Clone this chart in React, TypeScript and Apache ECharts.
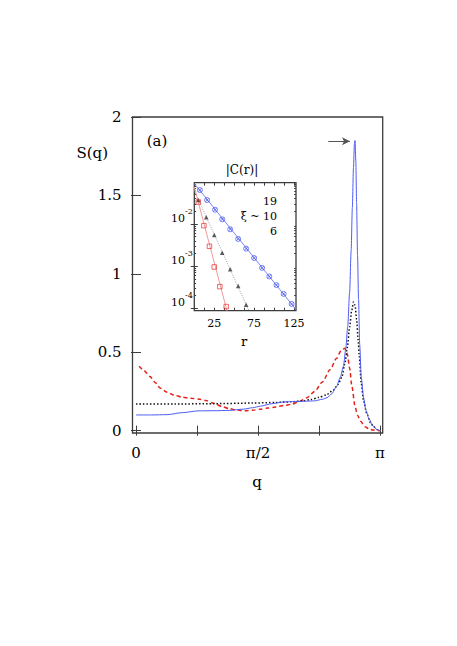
import React, { useEffect, useRef } from "react";
import * as echarts from "echarts";

// Main panel: S(q) curves, points [q, S]
const blueSolid: number[][] = [
  [0, 0.1], [0.2, 0.1], [0.4, 0.102], [0.6, 0.115], [0.8, 0.126], [1.0, 0.127], [1.2, 0.129],
  [1.38, 0.137], [1.5, 0.146], [1.6, 0.156], [1.75, 0.172], [1.9, 0.183], [2.05, 0.186],
  [2.2, 0.188], [2.3, 0.19], [2.4, 0.2], [2.46, 0.21], [2.52, 0.235], [2.58, 0.28],
  [2.63, 0.34], [2.67, 0.41], [2.7, 0.52], [2.725, 0.66], [2.75, 0.88], [2.77, 1.15],
  [2.785, 1.42], [2.8, 1.68], [2.812, 1.83], [2.82, 1.85], [2.83, 1.72], [2.84, 1.45],
  [2.852, 1.12], [2.865, 0.84], [2.88, 0.55], [2.9, 0.34], [2.93, 0.21], [2.96, 0.13],
  [3.0, 0.075], [3.05, 0.03], [3.1, 0.008], [3.1416, 0],
];
const blackDotted: number[][] = [
  [0, 0.17], [0.5, 0.17], [1.0, 0.172], [1.5, 0.176], [1.8, 0.18], [2.0, 0.184], [2.15, 0.19],
  [2.25, 0.198], [2.35, 0.212], [2.45, 0.228], [2.54, 0.258], [2.6, 0.295], [2.65, 0.34],
  [2.69, 0.43], [2.72, 0.53], [2.75, 0.66], [2.775, 0.76], [2.8, 0.82], [2.82, 0.8],
  [2.84, 0.71], [2.86, 0.58], [2.875, 0.47], [2.9, 0.3], [2.93, 0.19], [2.97, 0.11],
  [3.02, 0.05], [3.06, 0.025], [3.1, 0.008], [3.1416, 0],
];
const redDashed: number[][] = [
  [0.04, 0.41], [0.1, 0.385], [0.18, 0.345], [0.25, 0.305], [0.31, 0.272], [0.4, 0.245],
  [0.5, 0.225], [0.6, 0.213], [0.7, 0.207], [0.82, 0.2], [0.9, 0.192], [1.0, 0.175],
  [1.1, 0.155], [1.2, 0.14], [1.3, 0.131], [1.4, 0.127], [1.5, 0.13], [1.6, 0.137],
  [1.7, 0.144], [1.8, 0.15], [1.9, 0.16], [2.0, 0.168], [2.1, 0.185], [2.2, 0.21],
  [2.3, 0.25], [2.4, 0.31], [2.5, 0.39], [2.58, 0.46], [2.64, 0.51], [2.69, 0.525],
  [2.72, 0.49], [2.75, 0.4], [2.78, 0.28], [2.82, 0.155], [2.85, 0.1], [2.89, 0.06],
  [2.95, 0.025], [3.0, 0.01], [3.05, 0.004], [3.1416, 0],
];
const arrowFrom = [2.476, 1.845];
const arrowTo = [2.755, 1.845];

// Main axis ticks
const PI = Math.PI;
const qTicks = [0, PI / 4, PI / 2, (3 * PI) / 4, PI];
const qLabelValues = [0, PI / 2, PI];
const qLabelTexts = ["0", "π/2", "π"];
const sTicks = [0, 0.5, 1, 1.5, 2];
const sLabelTexts = ["0", "0.5", "1", "1.5", "2"];

// Inset: |C(r)| vs r
const circleR = [7, 16, 26, 35, 45, 55, 65, 75, 85, 94, 103, 112, 122];
const circleC = [0.064, 0.037, 0.0218, 0.0129, 0.00748, 0.00442, 0.0026, 0.00156, 0.00091, 0.00057, 0.000355, 0.00022, 0.000127];
const triangleR = [5, 15, 25, 35, 45, 55, 65];
const triangleC = [0.037, 0.0144, 0.00548, 0.00209, 0.000845, 0.00034, 0.000122];
const squareR = [5, 12, 19, 25, 32, 40];
const squareC = [0.0332, 0.00912, 0.00296, 0.000957, 0.000327, 0.00011];
const fit19: number[][] = [[0, 0.091], [127.5, 0.0000933]];
const fit10: number[][] = [[0, 0.0622], [68.6, 0.0000871]];
const fit6: number[][] = [[0, 0.0759], [41, 0.0000871]];
const rTicks = [12.5, 25, 37.5, 50, 62.5, 75, 87.5, 100, 112.5, 125];
const rLabels = [25, 75, 125];
const decadeExps = [-4, -3, -2];
const xiLabels = ["19", "ξ ~ 10", "6"];

export default function App() {
  const ref = useRef<HTMLDivElement>(null);
  useEffect(() => {
    const chart = echarts.init(ref.current!, null, { renderer: "svg" });
    const serif = "DejaVu Serif";
    const frame = "#3c3c3c";
    const lg = (v: number) => Math.log10(v);
    const minorLog: number[] = [];
    for (let n = -5; n <= -1; n++) {
      for (let k = 2; k <= 9; k++) {
        const v = Math.log10(k * Math.pow(10, n));
        if (v > -4.057 && v < -1.02) minorLog.push(v);
      }
    }
    const qFmt = (v: number) => {
      let best = 0;
      qLabelValues.forEach((x, i) => {
        if (Math.abs(x - v) < Math.abs(qLabelValues[best] - v)) best = i;
      });
      return qLabelTexts[best];
    };
    const sFmt = (v: number) => {
      let best = 0;
      sTicks.forEach((x, i) => {
        if (Math.abs(x - v) < Math.abs(sTicks[best] - v)) best = i;
      });
      return sLabelTexts[best];
    };
    const mainTickStyle = { color: frame, width: 1 };
    const txt = (text: string, x: number, y: number, size: number, align: string) => ({
      type: "text", x, y, z: 10,
      style: { text, fontSize: size, fontFamily: serif, fill: "#000", align, verticalAlign: "middle" },
    });
    const option: any = {
      animation: false,
      backgroundColor: "#ffffff",
      textStyle: { fontFamily: serif },
      grid: [
        { left: 132.5, top: 117, width: 250.2, height: 316, show: true, borderColor: frame, borderWidth: 1.3, backgroundColor: "transparent" },
        { left: 194.3, top: 182.7, width: 101.7, height: 128, show: true, borderColor: frame, borderWidth: 1.3, backgroundColor: "#ffffff", z: 3 },
      ],
      xAxis: [
        {
          gridIndex: 0, type: "value", min: -0.045, max: 3.176, position: "bottom",
          axisLine: { show: false }, splitLine: { show: false },
          axisTick: { inside: true, length: 5, customValues: qTicks, lineStyle: mainTickStyle },
          axisLabel: { customValues: qLabelValues, formatter: qFmt, fontSize: 15, fontFamily: serif, color: "#000", margin: 12 },
        },
        {
          gridIndex: 0, type: "value", min: -0.045, max: 3.176, position: "top",
          axisLine: { show: false }, splitLine: { show: false },
          axisTick: { inside: true, length: 5, customValues: qTicks, lineStyle: mainTickStyle },
          axisLabel: { show: false },
        },
        {
          gridIndex: 1, type: "value", min: 0, max: 127.5, position: "bottom", z: 4,
          axisLine: { show: false }, splitLine: { show: false },
          axisTick: { inside: true, length: 3, customValues: rTicks, lineStyle: mainTickStyle },
          axisLabel: { customValues: rLabels, fontSize: 11, fontFamily: serif, color: "#000", margin: 7 },
        },
        {
          gridIndex: 1, type: "value", min: 0, max: 127.5, position: "top", z: 4,
          axisLine: { show: false }, splitLine: { show: false },
          axisTick: { inside: true, length: 3, customValues: rTicks, lineStyle: mainTickStyle },
          axisLabel: { show: false },
        },
      ],
      yAxis: [
        {
          gridIndex: 0, type: "value", min: -0.015, max: 2, position: "left",
          axisLine: { show: false }, splitLine: { show: false },
          axisTick: { inside: true, length: 5, customValues: sTicks, lineStyle: mainTickStyle },
          axisLabel: { customValues: sTicks, formatter: sFmt, fontSize: 15, fontFamily: serif, color: "#000", margin: 11 },
        },
        {
          gridIndex: 0, type: "value", min: -0.015, max: 2, position: "right",
          axisLine: { show: false }, splitLine: { show: false },
          axisTick: { inside: true, length: 5, customValues: sTicks, lineStyle: mainTickStyle },
          axisLabel: { show: false },
        },
        {
          gridIndex: 1, type: "value", min: -4.057, max: -1.02, position: "left", z: 4,
          axisLine: { show: false }, splitLine: { show: false },
          axisTick: { inside: true, length: 3.5, customValues: decadeExps, lineStyle: mainTickStyle },
          axisLabel: {
            customValues: decadeExps, margin: 1.5,
            formatter: (v: number) => `{b|10}{s|${Math.round(v)}}`,
            rich: {
              b: { fontSize: 11, fontFamily: serif, color: "#000", lineHeight: 11, padding: [0, 0, 6, 0], verticalAlign: "bottom" },
              s: { fontSize: 8, fontFamily: serif, color: "#000", lineHeight: 8, padding: [0, 0, 14.5, 0], verticalAlign: "bottom" },
            },
          },
        },
        {
          gridIndex: 1, type: "value", min: -4.057, max: -1.02, position: "right", z: 4,
          axisLine: { show: false }, splitLine: { show: false },
          axisTick: { inside: true, length: 3.5, customValues: decadeExps, lineStyle: mainTickStyle },
          axisLabel: { show: false },
        },
        {
          gridIndex: 1, type: "value", min: -4.057, max: -1.02, position: "left", z: 4,
          axisLine: { show: false }, splitLine: { show: false },
          axisTick: { inside: true, length: 1.8, customValues: minorLog, lineStyle: mainTickStyle },
          axisLabel: { show: false },
        },
        {
          gridIndex: 1, type: "value", min: -4.057, max: -1.02, position: "right", z: 4,
          axisLine: { show: false }, splitLine: { show: false },
          axisTick: { inside: true, length: 1.8, customValues: minorLog, lineStyle: mainTickStyle },
          axisLabel: { show: false },
        },
      ],
      series: [
        {
          type: "line", xAxisIndex: 0, yAxisIndex: 0, data: redDashed, showSymbol: false,
          smooth: 0.25, smoothMonotone: "x", lineStyle: { color: "#e3221b", width: 1.5, type: [4, 3] }, z: 2,
        },
        {
          type: "line", xAxisIndex: 0, yAxisIndex: 0, data: blackDotted, showSymbol: false,
          smooth: 0.25, smoothMonotone: "x", lineStyle: { color: "#111", width: 1.5, type: [1.5, 2] }, z: 2,
        },
        {
          type: "line", xAxisIndex: 0, yAxisIndex: 0, data: blueSolid, showSymbol: false,
          smooth: 0.25, smoothMonotone: "x", lineStyle: { color: "#4d5cf2", width: 1 }, z: 2,
          markLine: {
            silent: true, symbol: ["none", "arrow"], symbolSize: [6, 8], label: { show: false },
            lineStyle: { color: "#555", width: 1, type: "solid" },
            data: [[{ coord: arrowFrom }, { coord: arrowTo }]],
          },
        },
        {
          type: "line", xAxisIndex: 2, yAxisIndex: 2, data: fit19.map((p) => [p[0], lg(p[1])]), showSymbol: false,
          lineStyle: { color: "#7d88f2", width: 1 }, z: 5,
        },
        {
          type: "line", xAxisIndex: 2, yAxisIndex: 2, data: fit10.map((p) => [p[0], lg(p[1])]), showSymbol: false,
          lineStyle: { color: "#999", width: 1, type: [1, 1.5] }, z: 5,
        },
        {
          type: "line", xAxisIndex: 2, yAxisIndex: 2, data: fit6.map((p) => [p[0], lg(p[1])]), showSymbol: false,
          lineStyle: { color: "#f29a9a", width: 1 }, z: 5,
        },
        {
          type: "scatter", xAxisIndex: 2, yAxisIndex: 2, z: 6,
          data: circleR.map((r, i) => [r, lg(circleC[i])]),
          symbol: "path://M10,0A10,10,0,1,1,10,20A10,10,0,1,1,10,0ZM2.9,2.9L17.1,17.1M17.1,2.9L2.9,17.1",
          symbolSize: 5, itemStyle: { color: "none", borderColor: "#4455ee", borderWidth: 0.9 },
        },
        {
          type: "scatter", xAxisIndex: 2, yAxisIndex: 2, z: 6,
          data: triangleR.map((r, i) => [r, lg(triangleC[i])]),
          symbol: "triangle", symbolSize: 4.5, itemStyle: { color: "#333" },
        },
        {
          type: "scatter", xAxisIndex: 2, yAxisIndex: 2, z: 6,
          data: squareR.map((r, i) => [r, lg(squareC[i])]),
          symbol: "rect", symbolSize: 4.5, itemStyle: { color: "none", borderColor: "#e53030", borderWidth: 0.9 },
        },
      ],
      graphic: [
        txt("(a)", 157, 141, 15, "center"),
        txt("S(q)", 108, 153, 15, "right"),
        txt("q", 257, 482, 15, "center"),
        txt("|C(r)|", 242, 170, 12, "center"),
        txt("r", 244, 341, 13, "center"),
        txt(xiLabels[0], 277, 201, 11, "right"),
        txt(xiLabels[1], 277, 216, 11, "right"),
        txt(xiLabels[2], 277, 231, 11, "right"),
      ],
    };
    chart.setOption(option);
    return () => chart.dispose();
  }, []);
  return <div ref={ref} style={{ position: "fixed", left: 0, top: 0, width: 457, height: 646, background: "#fff" }} />;
}
